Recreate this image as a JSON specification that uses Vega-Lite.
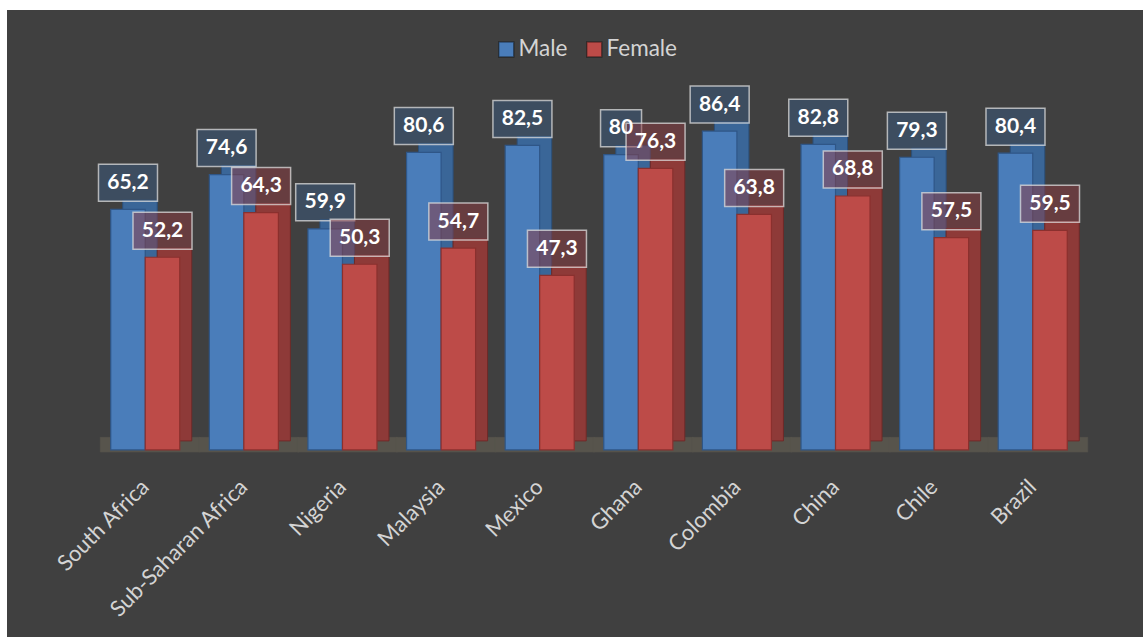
{
  "$schema": "https://vega.github.io/schema/vega-lite/v6.json",
  "width": 1136,
  "height": 627,
  "autosize": {"type": "none"},
  "padding": {"left": 7, "top": 10, "right": 0, "bottom": 0},
  "background": "white",
  "config": {
    "view": {"fill": "#404040", "stroke": null},
    "font": "Lato",
    "locale": {"number": {"decimal": ",", "thousands": ".", "grouping": [3], "currency": ["", ""]}}
  },
  "data": {
    "values": [
      {"country": "South Africa", "sex": "Male", "value": 65.2},
      {"country": "South Africa", "sex": "Female", "value": 52.2},
      {"country": "Sub-Saharan Africa", "sex": "Male", "value": 74.6},
      {"country": "Sub-Saharan Africa", "sex": "Female", "value": 64.3},
      {"country": "Nigeria", "sex": "Male", "value": 59.9},
      {"country": "Nigeria", "sex": "Female", "value": 50.3},
      {"country": "Malaysia", "sex": "Male", "value": 80.6},
      {"country": "Malaysia", "sex": "Female", "value": 54.7},
      {"country": "Mexico", "sex": "Male", "value": 82.5},
      {"country": "Mexico", "sex": "Female", "value": 47.3},
      {"country": "Ghana", "sex": "Male", "value": 80},
      {"country": "Ghana", "sex": "Female", "value": 76.3},
      {"country": "Colombia", "sex": "Male", "value": 86.4},
      {"country": "Colombia", "sex": "Female", "value": 63.8},
      {"country": "China", "sex": "Male", "value": 82.8},
      {"country": "China", "sex": "Female", "value": 68.8},
      {"country": "Chile", "sex": "Male", "value": 79.3},
      {"country": "Chile", "sex": "Female", "value": 57.5},
      {"country": "Brazil", "sex": "Male", "value": 80.4},
      {"country": "Brazil", "sex": "Female", "value": 59.5}
    ]
  },
  "encoding": {
    "x": {
      "field": "country",
      "type": "nominal",
      "sort": null,
      "scale": {"paddingInner": 0.3, "paddingOuter": 0.91, "align": 0.578},
      "axis": {
        "title": null,
        "labelAngle": -45,
        "labelAlign": "right",
        "labelBaseline": "middle",
        "labelColor": "#d4d4d4",
        "labelFont": "Lato",
        "labelFontSize": 22,
        "labelPadding": 31,
        "labelOverlap": false,
        "labelLimit": 400,
        "domain": false,
        "ticks": false,
        "grid": false,
        "offset": -185
      }
    },
    "y": {
      "type": "quantitative",
      "scale": {"domain": [-50.7, 119.2], "nice": false, "zero": false},
      "axis": null
    }
  },
  "layer": [
    {
      "transform": [{"filter": "datum.sex == 'Male'"}],
      "mark": {"type": "bar", "color": "#57544c", "stroke": "#57544c", "strokeWidth": 0.5, "width": {"band": 1.45}, "xOffset": 5, "x2Offset": 5},
      "encoding": {
        "y": {"datum": -0.6, "type": "quantitative"},
        "y2": {"datum": 3.4}
      }
    },
    {
      "transform": [{"filter": "datum.sex == 'Male'"}],
      "mark": {"type": "bar", "width": {"band": 0.5}, "xOffset": -5.25, "yOffset": -9, "y2Offset": -9, "fill": "#3a6698", "stroke": "#2b4f7a", "strokeWidth": 1},
      "encoding": {
        "y": {"field": "value", "type": "quantitative"},
        "y2": {"datum": 0}
      }
    },
    {
      "transform": [{"filter": "datum.sex == 'Female'"}],
      "mark": {"type": "bar", "width": {"band": 0.5}, "xOffset": 29.25, "yOffset": -9, "y2Offset": -9, "fill": "#8e3a38", "stroke": "#6e2a28", "strokeWidth": 1},
      "encoding": {
        "y": {"field": "value", "type": "quantitative"},
        "y2": {"datum": 0}
      }
    },
    {
      "mark": {"type": "bar", "strokeWidth": 1.2, "fillOpacity": 1},
      "encoding": {
        "xOffset": {"field": "sex", "type": "nominal", "sort": ["Male", "Female"], "scale": {"paddingInner": 0, "paddingOuter": 0}},
        "y": {"field": "value", "type": "quantitative"},
        "y2": {"datum": 0},
        "color": {
          "field": "sex",
          "type": "nominal",
          "sort": ["Male", "Female"],
          "scale": {"domain": ["Male", "Female"], "range": ["#4a7dba", "#bd4b48"]},
          "legend": {
            "orient": "none",
            "legendX": 488,
            "legendY": 28,
            "direction": "horizontal",
            "title": null,
            "symbolType": "square",
            "symbolSize": 225,
            "symbolStrokeColor": "rgba(0,0,0,0.4)",
            "symbolStrokeWidth": 1.5,
            "symbolOpacity": 1,
            "labelFont": "Lato",
            "labelFontSize": 22.5,
            "labelColor": "#d4d4d4",
            "labelOffset": 1,
            "columnPadding": 15
          }
        },
        "stroke": {"condition": {"test": "datum.sex == 'Male'", "value": "#2f5687"}, "value": "#8a302e"}
      }
    },
    {
      "mark": {"type": "bar", "yOffset": -8, "y2Offset": -45, "width": {"expr": "datum.value % 1 == 0 ? 41 : 59"}, "fillOpacity": 0.5, "stroke": "#dcdcdc", "strokeOpacity": 0.75, "strokeWidth": 1.5},
      "encoding": {
        "xOffset": {"field": "sex", "type": "nominal", "sort": ["Male", "Female"], "scale": {"paddingInner": 0, "paddingOuter": 0}},
        "y": {"field": "value", "type": "quantitative"},
        "y2": {"field": "value"},
        "fill": {"condition": {"test": "datum.sex == 'Male'", "value": "#3a5a80"}, "value": "#8e3a40"}
      }
    },
    {
      "mark": {"type": "text", "dy": -26.5, "baseline": "middle", "align": "center", "fontSize": 21, "fontWeight": "bold", "color": "white", "font": "Lato"},
      "encoding": {
        "xOffset": {"field": "sex", "type": "nominal", "sort": ["Male", "Female"], "scale": {"paddingInner": 0, "paddingOuter": 0}},
        "y": {"field": "value", "type": "quantitative"},
        "text": {"field": "value", "type": "quantitative", "format": ".1~f"}
      }
    }
  ]
}
